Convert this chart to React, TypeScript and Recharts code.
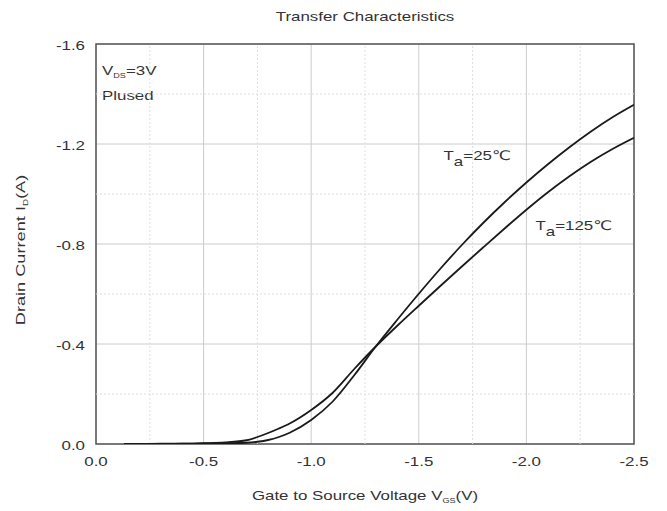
import React from 'react';
import {
  LineChart,
  Line,
  XAxis,
  YAxis,
  CartesianGrid,
  ReferenceLine,
  ReferenceArea,
  ReferenceDot,
} from 'recharts';

// Gate-source voltage (V)
const vgs = [-0.13, -0.2, -0.3, -0.4, -0.5, -0.6, -0.7, -0.75, -0.8, -0.85, -0.9, -1.0, -1.1, -1.2, -1.3, -1.4, -1.5, -1.6, -1.7, -1.8, -1.9, -2.0, -2.1, -2.2, -2.3, -2.4, -2.5];
// Drain current (A) at Ta = 25 C
const id25 = [0, 0, 0, -0.001, -0.002, -0.003, -0.005, -0.009, -0.016, -0.028, -0.045, -0.096, -0.17, -0.275, -0.39, -0.497, -0.601, -0.701, -0.796, -0.885, -0.968, -1.046, -1.119, -1.187, -1.25, -1.307, -1.357];
// Drain current (A) at Ta = 125 C
const id125 = [0, 0, -0.001, -0.001, -0.003, -0.006, -0.015, -0.028, -0.044, -0.062, -0.082, -0.136, -0.205, -0.3, -0.39, -0.473, -0.553, -0.632, -0.71, -0.787, -0.863, -0.937, -1.007, -1.071, -1.129, -1.18, -1.225];

const xTicks = [0, -0.5, -1.0, -1.5, -2.0, -2.5];
const yTicks = [0, -0.4, -0.8, -1.2, -1.6];
const xMinor = [-0.25, -0.75, -1.25, -1.75, -2.25];
const yMinor = [-0.2, -0.6, -1.0, -1.4];

const title = 'Transfer Characteristics';
const xTitle = 'Gate to Source Voltage V';
const xTitleSub = 'GS';
const yTitle = 'Drain Current I';
const yTitleSub = 'D';
const label25 = '=25\u2103';
const label125 = '=125\u2103';

const data = vgs.map((v, i) => ({ vgs: v, i25: id25[i], i125: id125[i] }));

const SX = 1.3;
const FONT = '"Liberation Sans", Arial, "DejaVu Sans", sans-serif';
const TXT = '#333';
const fmt = (v: number) => (Math.abs(v) < 1e-9 ? '0.0' : v.toFixed(1));

const XTick = (props: any) => {
  const { x, y, payload } = props;
  return (
    <g transform={`translate(${x},${y + 22})`}>
      <text transform={`scale(${SX},1)`} textAnchor="middle" fontSize={13} fontFamily={FONT} fill={TXT}>
        {fmt(payload.value)}
      </text>
    </g>
  );
};

const YTick = (props: any) => {
  const { x, y, payload } = props;
  return (
    <g transform={`translate(${x - 11},${y + 5.5})`}>
      <text transform={`scale(${SX},1)`} textAnchor="end" fontSize={13} fontFamily={FONT} fill={TXT}>
        {fmt(payload.value)}
      </text>
    </g>
  );
};

const XTitle = (props: any) => {
  const vb = props.viewBox || {};
  return (
    <g transform={`translate(${vb.x + vb.width / 2},${vb.y + 56})`}>
      <text transform={`scale(${SX},1)`} textAnchor="middle" fontSize={13} fontFamily={FONT} fill={TXT}>
        {xTitle}
        <tspan fontSize={7} dy={3}>{xTitleSub}</tspan>
        <tspan dy={-3}>(V)</tspan>
      </text>
    </g>
  );
};

const YTitle = (props: any) => {
  const vb = props.viewBox || {};
  return (
    <g transform={`translate(${vb.x + 25},${vb.y + vb.height / 2 + 6}) rotate(-90)`}>
      <text transform={`scale(${SX + 0.1},1)`} textAnchor="middle" fontSize={13} fontFamily={FONT} fill={TXT}>
        {yTitle}
        <tspan fontSize={7} dy={3}>{yTitleSub}</tspan>
        <tspan dy={-3}>(A)</tspan>
      </text>
    </g>
  );
};

const FrameLabels = (props: any) => {
  const vb = props.viewBox || {};
  return (
    <g>
      <g transform={`translate(${vb.x + vb.width / 2},${vb.y - 23})`}>
        <text transform={`scale(${SX},1)`} textAnchor="middle" fontSize={13} fontFamily={FONT} fill={TXT}>
          {title}
        </text>
      </g>
      <g transform={`translate(${vb.x + 6},${vb.y + 31})`}>
        <text transform={`scale(${SX},1)`} fontSize={13} fontFamily={FONT} fill={TXT}>
          V<tspan fontSize={7} dy={3}>DS</tspan>
          <tspan dy={-3}>=3V</tspan>
        </text>
      </g>
      <g transform={`translate(${vb.x + 6},${vb.y + 56})`}>
        <text transform={`scale(${SX},1)`} fontSize={13} fontFamily={FONT} fill={TXT}>
          Plused
        </text>
      </g>
    </g>
  );
};

const TaLabel = (text: string) => (props: any) => {
  const vb = props.viewBox || {};
  return (
    <g transform={`translate(${vb.x},${vb.y})`}>
      <text transform={`scale(${SX},1)`} fontSize={13} fontFamily={FONT} fill={TXT}>
        T<tspan dy={6}>a</tspan>
        <tspan dy={-6}>{text}</tspan>
      </text>
    </g>
  );
};

export default function App() {
  return (
    <div style={{ position: 'absolute', left: 0, top: 0, width: 667, height: 511, background: '#fff' }}>
      <LineChart width={667} height={511} data={data} margin={{ top: 44, right: 33, bottom: 0, left: 0 }}>
        <CartesianGrid stroke="#cccccc" strokeWidth={1} />
        {xMinor.map((v) => (
          <ReferenceLine key={'xm' + v} x={v} stroke="#dedede" strokeDasharray="2 2" />
        ))}
        {yMinor.map((v) => (
          <ReferenceLine key={'ym' + v} y={v} stroke="#dedede" strokeDasharray="2 2" />
        ))}
        <XAxis
          dataKey="vgs"
          type="number"
          domain={[-2.5, 0]}
          reversed
          ticks={xTicks}
          tick={<XTick />}
          tickLine={false}
          axisLine={false}
          tickSize={0}
          tickMargin={0}
          height={67}
          allowDataOverflow
          label={{ content: <XTitle /> } as any}
        />
        <YAxis
          type="number"
          domain={[-1.6, 0]}
          reversed
          ticks={yTicks}
          tick={<YTick />}
          tickLine={false}
          axisLine={false}
          tickSize={0}
          tickMargin={0}
          width={96}
          allowDataOverflow
          label={{ content: <YTitle /> } as any}
        />
        <Line type="monotone" dataKey="i25" stroke="#1a1a1a" strokeWidth={1.8} dot={false} isAnimationActive={false} />
        <Line type="monotone" dataKey="i125" stroke="#1a1a1a" strokeWidth={1.8} dot={false} isAnimationActive={false} />
        <ReferenceArea
          x1={-2.5}
          x2={0}
          y1={-1.6}
          y2={0}
          fill="none"
          fillOpacity={0}
          stroke="#555"
          strokeWidth={1.5}
          label={{ content: <FrameLabels /> } as any}
        />
        <ReferenceDot x={-1.615} y={-1.136} r={0} fill="none" stroke="none" label={{ content: TaLabel(label25) } as any} />
        <ReferenceDot x={-2.042} y={-0.856} r={0} fill="none" stroke="none" label={{ content: TaLabel(label125) } as any} />
      </LineChart>
    </div>
  );
}
